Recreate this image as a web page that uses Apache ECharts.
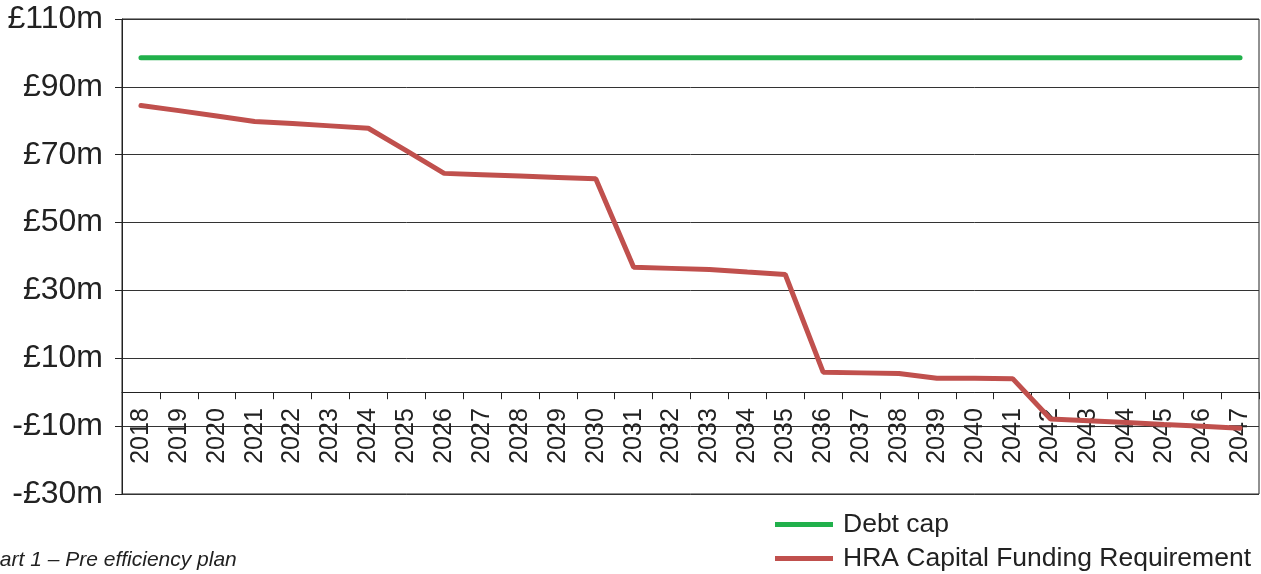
<!DOCTYPE html>
<html>
<head>
<meta charset="utf-8">
<script src="https://cdn.jsdelivr.net/npm/echarts@6/dist/echarts.min.js"></script>
<style>
html,body{margin:0;padding:0;background:#fff;}
#chart{width:1261px;height:574px;}
</style>
</head>
<body>
<div id="chart"></div>
<script>
var years = ['2018','2019','2020','2021','2022','2023','2024','2025','2026','2027','2028','2029','2030','2031','2032','2033','2034','2035','2036','2037','2038','2039','2040','2041','2042','2043','2044','2045','2046','2047'];
var debtCap = [98.6,98.6,98.6,98.6,98.6,98.6,98.6,98.6,98.6,98.6,98.6,98.6,98.6,98.6,98.6,98.6,98.6,98.6,98.6,98.6,98.6,98.6,98.6,98.6,98.6,98.6,98.6,98.6,98.6,98.6];
var hraFunding = [84.5,83.0,81.4,79.8,79.2,78.5,77.8,71.2,64.5,64.1,63.7,63.3,62.9,36.8,36.5,36.2,35.4,34.7,5.9,5.7,5.5,4.1,4.1,4.0,-7.9,-8.4,-8.9,-9.5,-10.0,-10.6];
var yTicks = [-30,-10,10,30,50,70,90,110];
var seriesNames = ['Debt cap','HRA Capital Funding Requirement'];
var caption = 'Chart 1 \u2013 Pre efficiency plan';

var chart = echarts.init(document.getElementById('chart'));
var font = 'Liberation Sans, Arial, sans-serif';
var gridBottom = 80;
chart.setOption({
  animation: false,
  grid: {left: 122, right: 2, top: 19, bottom: gridBottom, containLabel: false, show: true, borderColor: '#222', borderWidth: 1},
  legend: {
    orient: 'vertical', left: 775, top: 511,
    itemWidth: 58, itemHeight: 5, itemGap: 7, padding: 0,
    icon: 'rect',
    textStyle: {fontFamily: font, fontSize: 26.5, lineHeight: 26, color: '#222', padding: [0, 0, 0, 5]},
    data: seriesNames
  },
  xAxis: {
    type: 'category', data: years, boundaryGap: true, position: 'bottom', offset: 0,
    axisLine: {onZero: false, lineStyle: {color: '#222', width: 1}},
    axisTick: {show: true, length: 7, inside: false, lineStyle: {color: '#222'}},
    axisLabel: {rotate: 90, interval: 0, margin: 16, fontFamily: font, fontSize: 25, color: '#222'},
    splitLine: {show: false}
  },
  yAxis: {
    type: 'value', min: yTicks[0], max: yTicks[yTicks.length-1], interval: 20,
    axisLine: {show: true, lineStyle: {color: '#222', width: 1}},
    axisTick: {show: true, length: 7, lineStyle: {color: '#222'}},
    axisLabel: {margin: 19, fontFamily: font, fontSize: 32, color: '#222',
      formatter: function(v){ return (v < 0 ? '-\u00a3' + Math.abs(v) : '\u00a3' + v) + 'm'; }},
    splitLine: {show: true, lineStyle: {color: '#333', width: 1}}
  },
  series: [
    {name: seriesNames[0], type: 'line', data: debtCap, symbol: 'none', color: '#21b04b',
     lineStyle: {width: 5, color: '#21b04b', cap: 'round'}},
    {name: seriesNames[1], type: 'line', data: hraFunding, symbol: 'none', color: '#c0504d',
     lineStyle: {width: 5, color: '#c0504d', cap: 'round'}}
  ],
  graphic: [
    {type: 'text', left: -27, top: 550, style: {text: caption, fontFamily: font, fontSize: 21, fontStyle: 'italic', fill: '#222'}}
  ]
});
// move the category axis up to the zero line of the value scale
var zeroY = chart.convertToPixel({yAxisIndex: 0}, 0);
var bottomY = chart.getHeight() - gridBottom;
chart.setOption({xAxis: {offset: -(bottomY - zeroY)}});
</script>
</body>
</html>
